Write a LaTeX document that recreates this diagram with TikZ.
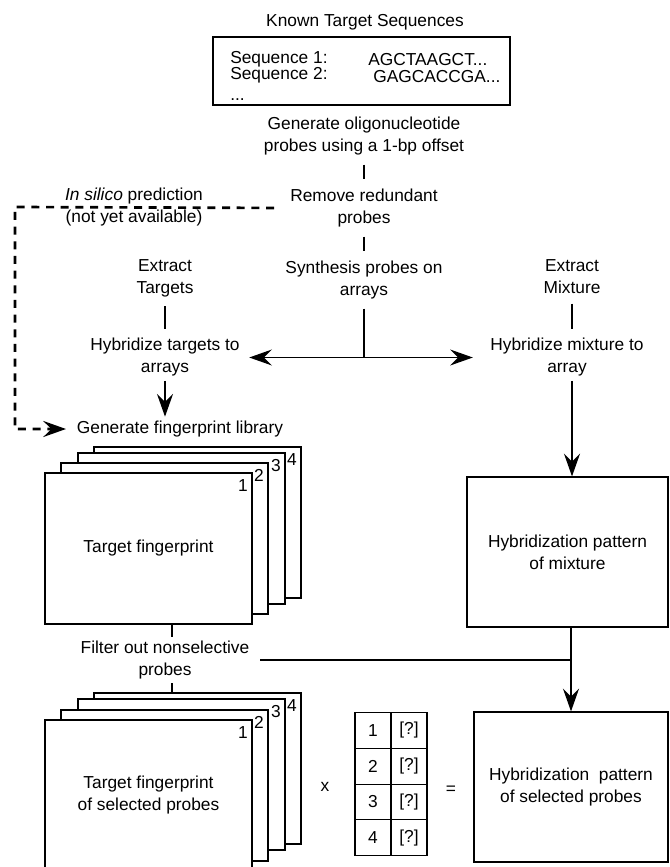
\documentclass[tikz,border=0pt]{standalone}
\usepackage{fontspec}
\setmainfont{Liberation Sans}
\usetikzlibrary{arrows.meta}

\begin{document}
\begin{tikzpicture}[x=0.75pt,y=-0.75pt,
  every node/.style={font=\fontsize{13}{16.5}\selectfont,align=center,inner sep=3pt},
  card/.style={draw,fill=white,line width=0.9pt,minimum width=155.25pt,minimum height=113.25pt,inner sep=0pt},
  panel/.style={draw,line width=0.9pt,inner sep=0pt},
  cell/.style={draw,line width=0.9pt,minimum width=27pt,minimum height=26.8pt,inner sep=0pt},
  num/.style={anchor=north east,inner xsep=3.5pt,inner ysep=5pt},
  link/.style={line width=1pt,shorten <=4pt,shorten >=4pt},
  flow/.style={line width=1pt,-{Stealth[length=17pt,width=12pt,inset=6pt]}},
  both/.style={line width=1pt,{Stealth[length=17pt,width=12pt,inset=6pt]}-{Stealth[length=17pt,width=12pt,inset=6pt]}},
  guess/.style={line width=2pt,dash pattern=on 6pt off 5pt,-{Stealth[length=17pt,width=12pt,inset=6pt]}}]
  \useasboundingbox (0,0) rectangle (670,867);
  \clip (0,0) rectangle (670,867);

  % ---- known sequences ----
  \node (known) at (365,22) {Known Target Sequences};
  \node[panel,minimum width=222.75pt,minimum height=51pt] (seqs) at (361.5,71) {};
  \node[anchor=west] (sq1) at (226,59) {Sequence 1:};
  \node[anchor=west] (sq2) at (226,75.5) {Sequence 2:};
  \node[anchor=west] (sqd) at (226,100) {...};
  \node[anchor=west] (s1) at (364,59.5) {AGCTAAGCT...};
  \node[anchor=west] (s2) at (369,77) {GAGCACCGA...};

  % ---- probe design steps ----
  \node (gen) at (364,136) {Generate oligonucleotide\\probes using a 1-bp offset};
  \node (rem) at (364,208) {Remove redundant\\probes};
  \node (syn) at (364,280) {Synthesis probes on\\arrays};
  \draw[link] (gen) -- (rem);
  \draw[link] (rem) -- (syn);

  % ---- targets / mixture branches ----
  \node (ext) at (165,278) {Extract\\Targets};
  \node (hybt) at (165,357.5) {Hybridize targets to\\arrays};
  \node (exm) at (572,277) {Extract\\Mixture};
  \node (hybm) at (567,357.5) {Hybridize mixture to\\array};
  \node (lib) at (180,429) {Generate fingerprint library};
  \draw[link] (ext) -- (hybt);
  \draw[link] (exm.south) -- (exm.south |- hybm.north);
  \coordinate (jn) at (syn.south |- hybt.east);
  \draw[line width=1pt,shorten <=4pt] (syn.south) -- (jn);
  \draw[both,shorten <=4pt,shorten >=10pt] (hybt.east) -- (hybm.west);
  \draw[flow] (hybt.south) -- (hybt.south |- lib.north);

  % in silico route (dashed)
  \coordinate (bend1) at (15,207);
  \coordinate (bend2) at (15,429);
  \draw[guess,shorten <=9pt,shorten >=5pt] (rem.west) -- (bend1) -- (bend2) -- (lib.west);
  \node (silico) at (134,207) {\textit{In silico} prediction\\(not yet available)};

  % ---- fingerprint library stack ----
  \foreach \i/\dx/\dy in {4/49/26,3/33/20,2/16/10,1/0/0}{
    \node[card] (fp\i) at (148.5+\dx,548.5-\dy) {};
    \node[num] (fpn\i) at (fp\i.north east) {\i};
  }
  \node (fptxt) at (fp1) {Target fingerprint};

  % ---- mixture pattern ----
  \node[panel,minimum width=150.75pt,minimum height=112.5pt] (mix) at (567.5,552) {Hybridization pattern\\of mixture};
  \draw[flow] (hybm.south -| exm.south) -- (exm.south |- mix.north);

  % ---- filtering ----
  \coordinate (stk) at (172,0);
  \node (filt) at (165,660) {Filter out nonselective\\probes};
  \draw[line width=1pt] (fp1.south -| stk) -- (filt.north -| stk);

  % ---- selected probes stack ----
  \foreach \i/\dx/\dy in {4/49/27,3/33/21,2/16/10,1/0/0}{
    \node[card] (fq\i) at (148.5+\dx,795.5-\dy) {};
    \node[num] (fqn\i) at (fq\i.north east) {\i};
  }
  \node (fqtxt) at (fq1) {Target fingerprint\\of selected probes};
  \draw[line width=1pt] (filt.south -| stk) -- (fq4.north -| stk);

  % ---- weights table and result ----
  \node (times) at (325,787) {x};
  \foreach \i in {1,...,4}{
    \node[cell] (id\i) at (373,730.5+35.75*\i-35.75) {\i};
    \node[cell] (val\i) at (409,730.5+35.75*\i-35.75) {[?]};
  }
  \node (eq) at (451,790) {=};
  \node[panel,minimum width=145.5pt,minimum height=112.5pt] (sel) at (571,787) {Hybridization\ \ pattern\\of selected probes};
  \draw[flow] (mix.south -| sel.north) -- (sel.north);
  \draw[line width=1pt,shorten <=5pt] (filt.east) -- (filt.east -| sel.north);
\end{tikzpicture}
\end{document}
